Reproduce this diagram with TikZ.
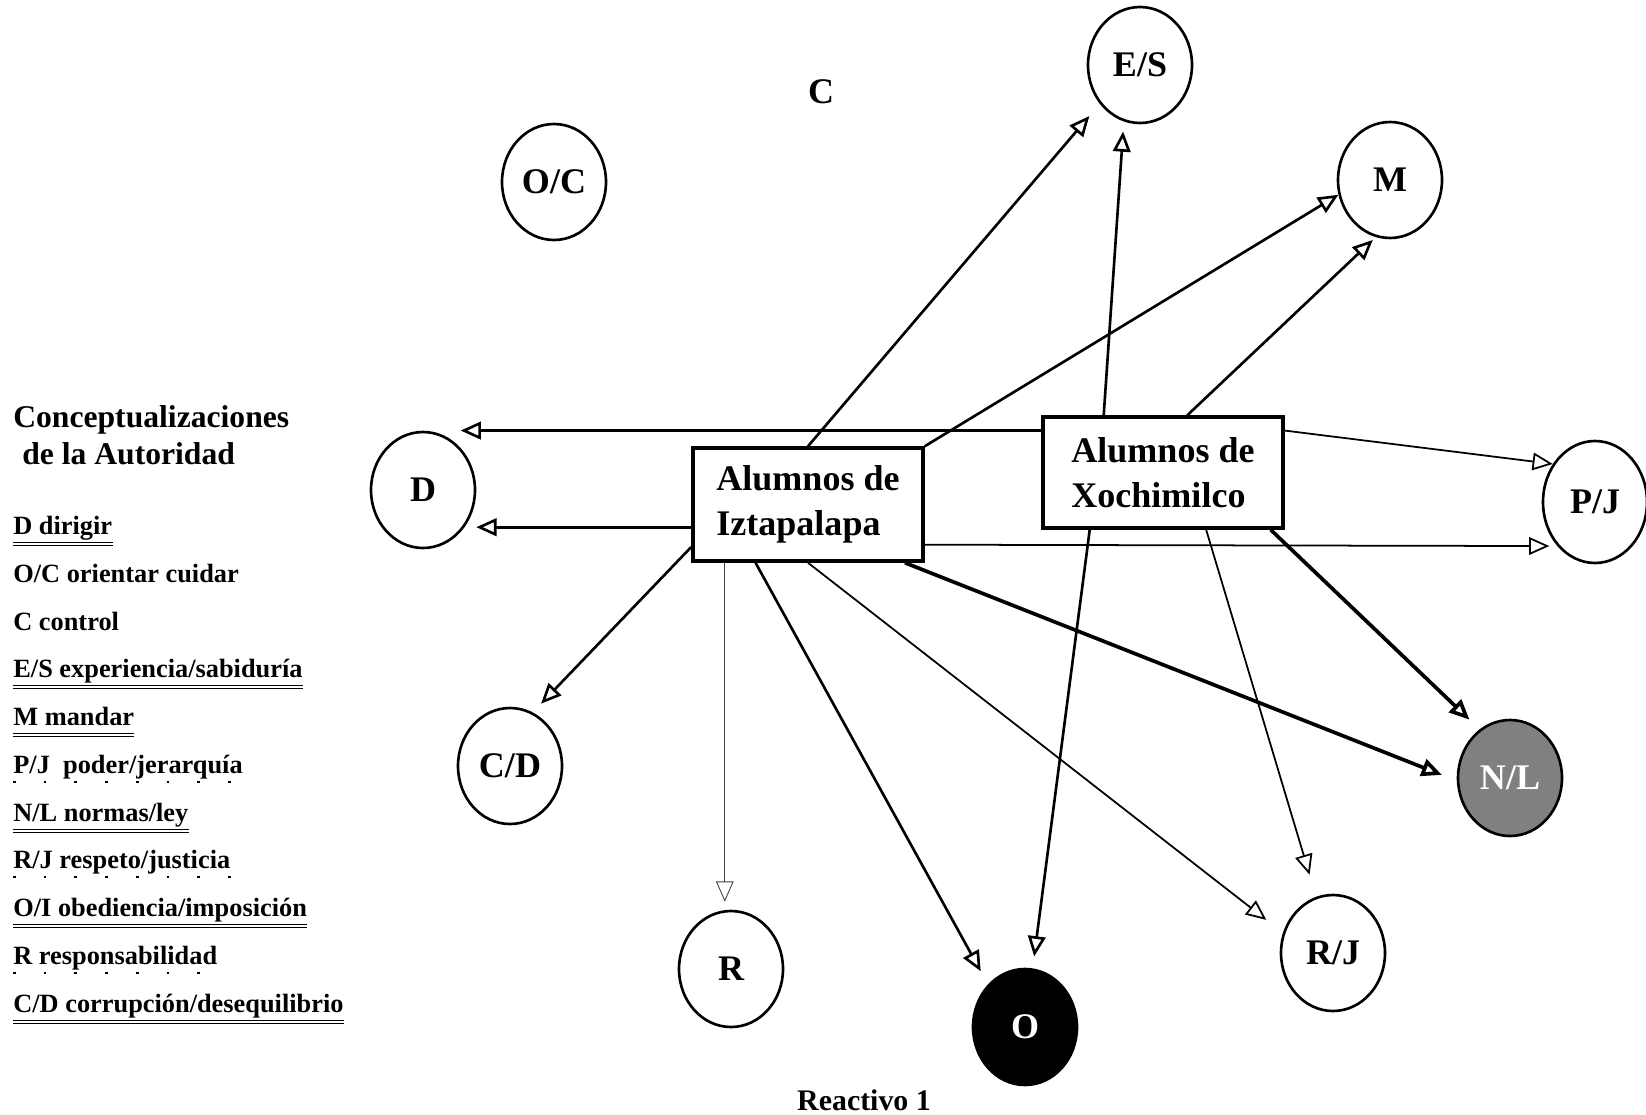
\documentclass[tikz,border=0pt]{standalone}
\usepackage{fontspec}
\setmainfont{Liberation Serif}
\usetikzlibrary{shapes.geometric,arrows.meta}

\newlength{\px}
\setlength{\px}{0.02cm}

\tikzset{
  concepto/.style={ellipse, draw, line width=1.5pt, minimum width=104\px, minimum height=116\px, inner sep=0pt, font=\fontsize{20.5}{24}\selectfont\bfseries},
  alumnos/.style={rectangle, draw, line width=2pt, align=left, inner sep=0pt, font=\fontsize{20.5}{25.5}\selectfont\bfseries},
  flecha/.style={line width=1.5pt, -{Triangle[open,length=11.5pt,width=10pt]}},
  fina/.style={flecha, line width=1pt},
  tenue/.style={flecha, line width=0.5pt, black!75},
  gruesa/.style={flecha, line width=2.1pt},
  leyenda/.style={anchor=base west, inner sep=0pt, font=\fontsize{15}{18}\selectfont\bfseries},
  subraya/.style={double, double distance=1pt, line width=0.5pt},
  punteado/.style={line width=0.8pt, dash pattern=on 1.5pt off 16pt}
}

\begin{document}
\begin{tikzpicture}[x=0.02cm, y=-0.02cm]
\useasboundingbox (0,0) rectangle (1646,1115);

% conceptos
\node[concepto] (es) at (1140,65) {E/S};
\node[concepto] (mm) at (1390,180) {M};
\node[concepto] (oc) at (554,182) {O/C};
\node[concepto] (dd) at (423,490) {D};
\node[concepto, minimum height=122\px] (pj) at (1595,502) {P/J};
\node[concepto] (cd) at (510,766) {C/D};
\node[concepto, fill=black!50, text=white] (nl) at (1510,778) {N/L};
\node[concepto] (rr) at (731,969) {R};
\node[concepto, fill=black, text=white] (oo) at (1025,1027) {O};
\node[concepto] (rj) at (1333,953) {R/J};
\node[font=\fontsize{20.5}{24}\selectfont\bfseries] (cc) at (821,92) {C};

% grupos de alumnos
\node[alumnos, minimum width=230\px, minimum height=113\px] (izt) at (808,504.5) {Alumnos de\\Iztapalapa};
\node[alumnos, minimum width=240\px, minimum height=111\px] (xoc) at (1163,472.5) {Alumnos de\\Xochimilco};

% flechas de Iztapalapa
\draw[flecha, shorten >=16\px] (izt.north) -- (es.224);
\draw[flecha] (izt.north east) -- (mm.196);
\draw[flecha] (izt.191) -- (izt.191 -| dd.east);
\draw[fina, shorten >=8\px] (izt.341) -- (pj.south west);
\draw[flecha, shorten >=12\px] (izt.200) -- (cd.67);
\draw[tenue, shorten >=8\px] (izt.215) -- (izt.215 |- rr.north);
\draw[flecha, shorten >=15\px] (izt.228) -- (oo.131);
\draw[fina, shorten >=21\px] (izt.south) -- (rj.158);
\draw[gruesa, shorten >=16\px] (izt.329) -- (nl.183);

% flechas de Xochimilco
\draw[flecha, shorten >=10\px] (xoc.136) -- (es.254);
\draw[flecha, shorten >=4\px] (xoc.67) -- (mm.256);
\draw[flecha] (xoc.161) -- (xoc.161 -| dd.north east);
\draw[fina] (xoc.19) -- (pj.138);
\draw[flecha, shorten >=12\px] (xoc.218) -- (oo);
\draw[fina, shorten >=23\px] (xoc.307) -- (rj);
\draw[gruesa, shorten >=14\px] (xoc.332) -- (nl.122);

% leyenda
\node[leyenda, font=\fontsize{18}{21}\selectfont\bfseries] (tit1) at (13,427) {Conceptualizaciones};
\node[leyenda, font=\fontsize{18}{21}\selectfont\bfseries] (tit2) at (22,464) {de la Autoridad};
\node[leyenda] (l1) at (13,534) {D dirigir};
\node[leyenda] (l2) at (13,582) {O/C orientar cuidar};
\node[leyenda] (l3) at (13,630) {C control};
\node[leyenda] (l4) at (13,677) {E/S experiencia/sabiduría};
\node[leyenda] (l5) at (13,725) {M mandar};
\node[leyenda] (l6) at (13,773) {P/J\ \ poder/jerarquía};
\node[leyenda] (l7) at (13,821) {N/L normas/ley};
\node[leyenda] (l8) at (13,868) {R/J respeto/justicia};
\node[leyenda] (l9) at (13,916) {O/I obediencia/imposición};
\node[leyenda] (l10) at (13,964) {R responsabilidad};
\node[leyenda] (l11) at (13,1012) {C/D corrupción/desequilibrio};

\draw[subraya] ([yshift=-10\px]l1.base west) -- ([yshift=-10\px]l1.base east);
\draw[subraya] ([yshift=-10\px]l4.base west) -- ([yshift=-10\px]l4.base east);
\draw[subraya] ([yshift=-10\px]l5.base west) -- ([yshift=-10\px]l5.base east);
\draw[punteado] ([yshift=-9\px]l6.base west) -- ([yshift=-9\px]l6.base east);
\draw[subraya] ([yshift=-10\px]l7.base west) -- ([yshift=-10\px]l7.base east);
\draw[punteado] ([yshift=-9\px]l8.base west) -- ([yshift=-9\px]l8.base east);
\draw[subraya] ([yshift=-10\px]l9.base west) -- ([yshift=-10\px]l9.base east);
\draw[punteado] ([yshift=-9\px]l10.base west) -- ([yshift=-9\px]l10.base east);
\draw[subraya] ([yshift=-10\px]l11.base west) -- ([yshift=-10\px]l11.base east);

\node[font=\fontsize{17}{20}\selectfont\bfseries] (reac) at (864,1100) {Reactivo 1};
\end{tikzpicture}
\end{document}
